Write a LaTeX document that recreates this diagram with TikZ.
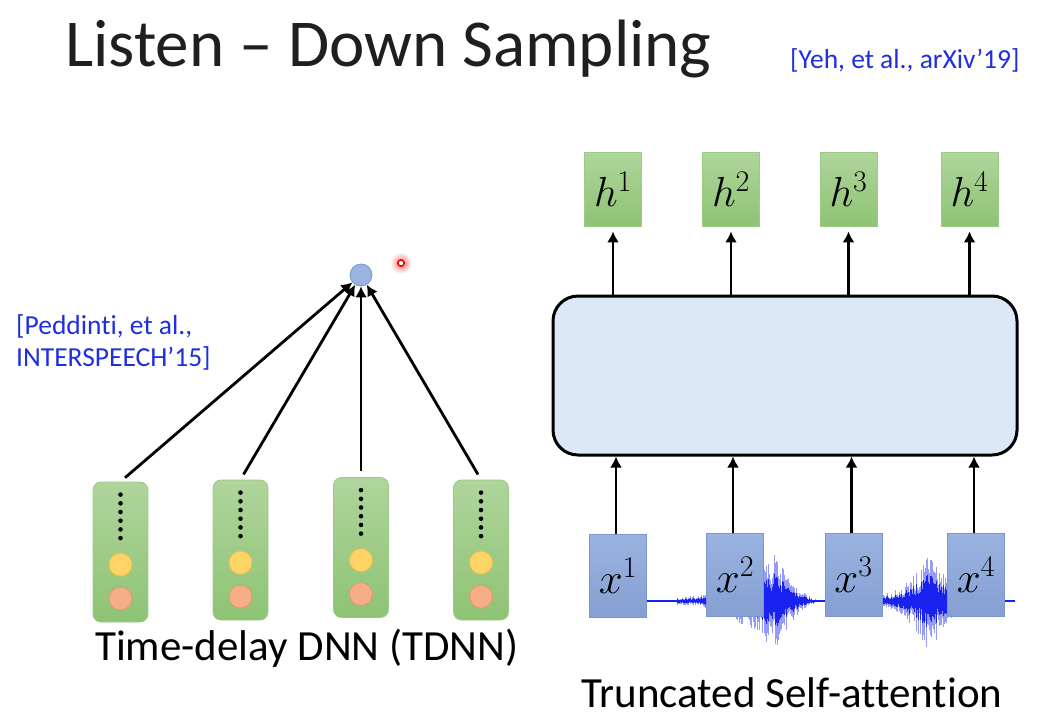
\RequirePackage{fix-cm}
\documentclass[tikz,border=0pt]{standalone}
\usepackage{fontspec}
\setmainfont{Carlito}[Ligatures={NoCommon}]
\usetikzlibrary{arrows.meta,shadings}
\DeclareMathSizes{42}{42}{30}{22}
\DeclareMathSizes{43}{43}{30}{22}
\definecolor{gtop}{HTML}{AFD59C}
\definecolor{gbot}{HTML}{8EC374}
\definecolor{gdraw}{HTML}{9CCB86}
\definecolor{btop}{HTML}{9AB3E0}
\definecolor{bbot}{HTML}{859FD3}
\definecolor{bdraw}{HTML}{7C96CB}
\definecolor{sabg}{HTML}{DCE8F5}
\definecolor{refblue}{HTML}{1F2FE0}
\definecolor{wave}{HTML}{1A22F0}
\definecolor{yel}{HTML}{FFD466}
\definecolor{yeld}{HTML}{F2BE45}
\definecolor{ora}{HTML}{F5AE85}
\definecolor{orad}{HTML}{E8956A}
\tikzset{
  tdnnbox/.style={rectangle, rounded corners=8pt, minimum width=55pt, minimum height=140pt, top color=gtop, bottom color=gbot, draw=gdraw, line width=0.8pt, inner sep=0pt},
  hbox/.style={rectangle, minimum width=57pt, minimum height=74pt, top color=gtop, bottom color=gbot, draw=gdraw, line width=0.8pt, inner sep=0pt, font=\fontsize{42}{48}\selectfont},
  xbox/.style={rectangle, minimum width=57pt, minimum height=83pt, top color=btop, bottom color=bbot, draw=bdraw, line width=0.8pt, inner sep=0pt, font=\fontsize{43}{48}\selectfont},
  ydot/.style={circle, minimum size=23pt, inner sep=0pt, fill=yel, draw=yeld, line width=0.8pt},
  odot/.style={circle, minimum size=23pt, inner sep=0pt, fill=ora, draw=orad, line width=0.8pt},
  arr/.style={line width=2.8pt, -{Latex[length=11pt,width=12pt]}},
  reftext/.style={text=refblue, font=\fontsize{27.5}{32}\selectfont, inner sep=0pt},
  caption/.style={font=\fontsize{43}{48}\selectfont, inner sep=0pt, anchor=base west},
}
\begin{document}
\begin{tikzpicture}[x=1pt,y=-1pt]
\useasboundingbox (0,0) rectangle (1040,726);
\fill[white] (0,0) rectangle (1040,726);

% title and references
\node[anchor=base west, inner sep=0pt, font=\fontsize{67}{80}\selectfont, text=black!88] (title) at (65,66) {Listen – Down Sampling};
\node[reftext, anchor=base west] (ref1) at (790,68) {[Yeh, et al., arXiv’19]};
\node[reftext, anchor=north west, align=left] (ref2) at (16,314) {[Peddinti, et al.,\\INTERSPEECH’15]};

% ---------- TDNN ----------
\node[tdnnbox] (b1) at (120.5,552) {};
\node[tdnnbox] (b2) at (240.5,550) {};
\node[tdnnbox] (b3) at (361,547.5) {};
\node[tdnnbox] (b4) at (481,550) {};
\foreach \b in {b1,b2,b3,b4}{
  \foreach \k in {0,...,5}{
    \fill ([yshift=-13-8.7*\k]\b.north) circle (2.3);
  }
  \node[ydot] (\b y) at ([yshift=-83]\b.north) {};
  \node[odot] (\b o) at ([yshift=-117]\b.north) {};
}
\node[circle, minimum size=22pt, inner sep=0pt, fill=btop, draw=bdraw, line width=0.8pt] (c) at (361,275) {};
\draw[arr, shorten <=6pt] (b1.north) -- (c);
\draw[arr, shorten <=6pt] (b2.north) -- (c);
\draw[arr, shorten <=6pt] (b3.north) -- (c);
\draw[arr, shorten <=6pt] (b4.north) -- (c);

% laser pointer dot
\shade[inner color=red!55, outer color=white] (401,263) circle (11);
\draw[red, line width=1.6pt, fill=white] (401,263) circle (3.2);

\node[caption] (cap1) at (95,660) {Time-delay DNN (TDNN)};

% ---------- Self-attention ----------
\node[rectangle, rounded corners=25pt, minimum width=464pt, minimum height=159pt, draw=black, line width=3pt, fill=sabg, inner sep=0pt] (sa) at (785,375.5) {};

\node[hbox] (h1) at (613,189) {$h^1$};
\node[hbox] (h2) at (731,189) {$h^2$};
\node[hbox] (h3) at (848.5,189) {$h^3$};
\node[hbox] (h4) at (969.5,189) {$h^4$};
\foreach \h in {h1,h2,h3,h4}{
  \draw[arr, shorten >=5pt] (\h.south |- sa.north) -- (\h.south);
}

% waveform
\pgfmathsetseed{11}
\draw[wave, line width=1.2pt] (647,601) -- (1015,601);
\foreach \i in {0,...,148}{
  \pgfmathsetmacro\xx{677+\i}
  \pgfmathsetmacro\t{\xx<775 ? (\xx-677)/98 : max(0,1-(\xx-775)/50)}
  \pgfmathsetmacro\env{\xx<775 ? 4+43*\t*\t : 47*\t*\t}
  \pgfmathsetmacro\up{\env*(0.35+0.65*rnd)}
  \pgfmathsetmacro\dn{\env*(0.35+0.65*rnd)}
  \draw[wave, opacity=0.45, line width=1pt] (\xx,601-\up) -- (\xx,601+\dn*1.05);
  \draw[wave, line width=1pt] (\xx,601-0.6*\up) -- (\xx,601+0.6*\dn);
}
\foreach \i in {0,...,78}{
  \pgfmathsetmacro\xx{882+\i}
  \pgfmathsetmacro\t{\xx<928 ? (\xx-882)/46 : max(0,1-(\xx-928)/40)}
  \pgfmathsetmacro\env{\xx<928 ? 8+39*\t*\t : 47*\t}
  \pgfmathsetmacro\up{\env*(0.35+0.65*rnd)}
  \pgfmathsetmacro\dn{\env*(0.35+0.65*rnd)}
  \draw[wave, opacity=0.45, line width=1pt] (\xx,601-\up) -- (\xx,601+\dn*1.05);
  \draw[wave, line width=1pt] (\xx,601-0.6*\up) -- (\xx,601+0.6*\dn);
}

\node[xbox] (x1) at (618,576) {$x^1$};
\node[xbox] (x2) at (735,575) {$x^2$};
\node[xbox] (x3) at (853.5,575) {$x^3$};
\node[xbox] (x4) at (976,575) {$x^4$};
\foreach \x in {x1,x2,x3,x4}{
  \draw[arr] ([xshift=-2pt]\x.north) -- ([xshift=-2pt]\x.north |- sa.south);
}

\node[caption] (cap2) at (581,707) {Truncated Self-attention};
\end{tikzpicture}
\end{document}
